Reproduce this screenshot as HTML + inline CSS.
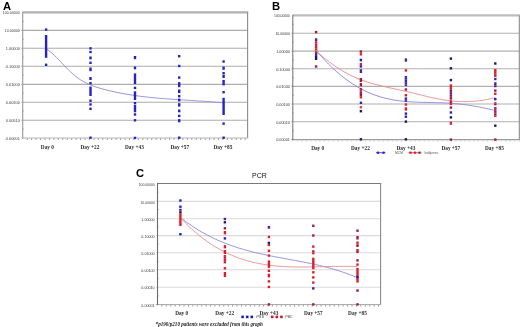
<!DOCTYPE html>
<html><head><meta charset="utf-8"><title>Figure</title>
<style>html,body{margin:0;padding:0;background:#fff;width:520px;height:327px;overflow:hidden;font-family:"Liberation Sans",sans-serif}svg{display:block;will-change:transform;filter:blur(0.35px)}</style>
</head><body>
<svg width="520" height="327" viewBox="0 0 520 327">
<rect width="520" height="327" fill="#fff"/>
<line x1="21.2" y1="30.4" x2="247.6" y2="30.4" stroke="#adadad" stroke-width="1.1"/>
<line x1="21.2" y1="48.3" x2="247.6" y2="48.3" stroke="#adadad" stroke-width="1.1"/>
<line x1="21.2" y1="66.3" x2="247.6" y2="66.3" stroke="#adadad" stroke-width="1.1"/>
<line x1="21.2" y1="84.4" x2="247.6" y2="84.4" stroke="#adadad" stroke-width="1.1"/>
<line x1="21.2" y1="102.2" x2="247.6" y2="102.2" stroke="#adadad" stroke-width="1.1"/>
<line x1="21.2" y1="120.2" x2="247.6" y2="120.2" stroke="#adadad" stroke-width="1.1"/>
<line x1="22.2" y1="21.37" x2="23.9" y2="21.37" stroke="#aaa" stroke-width="0.8"/>
<line x1="22.2" y1="39.31" x2="23.9" y2="39.31" stroke="#aaa" stroke-width="0.8"/>
<line x1="22.2" y1="57.26" x2="23.9" y2="57.26" stroke="#aaa" stroke-width="0.8"/>
<line x1="22.2" y1="75.2" x2="23.9" y2="75.2" stroke="#aaa" stroke-width="0.8"/>
<line x1="22.2" y1="93.14" x2="23.9" y2="93.14" stroke="#aaa" stroke-width="0.8"/>
<line x1="22.2" y1="111.09" x2="23.9" y2="111.09" stroke="#aaa" stroke-width="0.8"/>
<line x1="22.2" y1="129.03" x2="23.9" y2="129.03" stroke="#aaa" stroke-width="0.8"/>
<line x1="22.7" y1="12.4" x2="248.2" y2="12.4" stroke="#b0b0b0" stroke-width="2.2"/>
<line x1="247.6" y1="12.4" x2="247.6" y2="138" stroke="#8a8a8a" stroke-width="1.1"/>
<line x1="21.2" y1="138" x2="248.2" y2="138" stroke="#b5b5b5" stroke-width="1"/>
<line x1="22.7" y1="11.8" x2="22.7" y2="138.6" stroke="#a0a0a0" stroke-width="1.2"/>
<line x1="27.15" y1="138.3" x2="27.15" y2="140" stroke="#9a9a9a" stroke-width="1"/>
<line x1="31.6" y1="138.3" x2="31.6" y2="140" stroke="#9a9a9a" stroke-width="1"/>
<line x1="36.05" y1="138.3" x2="36.05" y2="140" stroke="#9a9a9a" stroke-width="1"/>
<line x1="40.5" y1="138.3" x2="40.5" y2="140" stroke="#9a9a9a" stroke-width="1"/>
<line x1="44.95" y1="138.3" x2="44.95" y2="140" stroke="#9a9a9a" stroke-width="1"/>
<line x1="49.4" y1="138.3" x2="49.4" y2="140" stroke="#9a9a9a" stroke-width="1"/>
<line x1="53.85" y1="138.3" x2="53.85" y2="140" stroke="#9a9a9a" stroke-width="1"/>
<line x1="58.3" y1="138.3" x2="58.3" y2="140" stroke="#9a9a9a" stroke-width="1"/>
<line x1="62.75" y1="138.3" x2="62.75" y2="140" stroke="#9a9a9a" stroke-width="1"/>
<line x1="67.2" y1="138.3" x2="67.2" y2="140" stroke="#9a9a9a" stroke-width="1"/>
<line x1="71.65" y1="138.3" x2="71.65" y2="140" stroke="#9a9a9a" stroke-width="1"/>
<line x1="76.1" y1="138.3" x2="76.1" y2="140" stroke="#9a9a9a" stroke-width="1"/>
<line x1="80.55" y1="138.3" x2="80.55" y2="140" stroke="#9a9a9a" stroke-width="1"/>
<line x1="85" y1="138.3" x2="85" y2="140" stroke="#9a9a9a" stroke-width="1"/>
<line x1="89.45" y1="138.3" x2="89.45" y2="140" stroke="#9a9a9a" stroke-width="1"/>
<line x1="93.9" y1="138.3" x2="93.9" y2="140" stroke="#9a9a9a" stroke-width="1"/>
<line x1="98.35" y1="138.3" x2="98.35" y2="140" stroke="#9a9a9a" stroke-width="1"/>
<line x1="102.8" y1="138.3" x2="102.8" y2="140" stroke="#9a9a9a" stroke-width="1"/>
<line x1="107.25" y1="138.3" x2="107.25" y2="140" stroke="#9a9a9a" stroke-width="1"/>
<line x1="111.7" y1="138.3" x2="111.7" y2="140" stroke="#9a9a9a" stroke-width="1"/>
<line x1="116.15" y1="138.3" x2="116.15" y2="140" stroke="#9a9a9a" stroke-width="1"/>
<line x1="120.6" y1="138.3" x2="120.6" y2="140" stroke="#9a9a9a" stroke-width="1"/>
<line x1="125.05" y1="138.3" x2="125.05" y2="140" stroke="#9a9a9a" stroke-width="1"/>
<line x1="129.5" y1="138.3" x2="129.5" y2="140" stroke="#9a9a9a" stroke-width="1"/>
<line x1="133.95" y1="138.3" x2="133.95" y2="140" stroke="#9a9a9a" stroke-width="1"/>
<line x1="138.4" y1="138.3" x2="138.4" y2="140" stroke="#9a9a9a" stroke-width="1"/>
<line x1="142.85" y1="138.3" x2="142.85" y2="140" stroke="#9a9a9a" stroke-width="1"/>
<line x1="147.3" y1="138.3" x2="147.3" y2="140" stroke="#9a9a9a" stroke-width="1"/>
<line x1="151.75" y1="138.3" x2="151.75" y2="140" stroke="#9a9a9a" stroke-width="1"/>
<line x1="156.2" y1="138.3" x2="156.2" y2="140" stroke="#9a9a9a" stroke-width="1"/>
<line x1="160.65" y1="138.3" x2="160.65" y2="140" stroke="#9a9a9a" stroke-width="1"/>
<line x1="165.1" y1="138.3" x2="165.1" y2="140" stroke="#9a9a9a" stroke-width="1"/>
<line x1="169.55" y1="138.3" x2="169.55" y2="140" stroke="#9a9a9a" stroke-width="1"/>
<line x1="174" y1="138.3" x2="174" y2="140" stroke="#9a9a9a" stroke-width="1"/>
<line x1="178.45" y1="138.3" x2="178.45" y2="140" stroke="#9a9a9a" stroke-width="1"/>
<line x1="182.9" y1="138.3" x2="182.9" y2="140" stroke="#9a9a9a" stroke-width="1"/>
<line x1="187.35" y1="138.3" x2="187.35" y2="140" stroke="#9a9a9a" stroke-width="1"/>
<line x1="191.8" y1="138.3" x2="191.8" y2="140" stroke="#9a9a9a" stroke-width="1"/>
<line x1="196.25" y1="138.3" x2="196.25" y2="140" stroke="#9a9a9a" stroke-width="1"/>
<line x1="200.7" y1="138.3" x2="200.7" y2="140" stroke="#9a9a9a" stroke-width="1"/>
<line x1="205.15" y1="138.3" x2="205.15" y2="140" stroke="#9a9a9a" stroke-width="1"/>
<line x1="209.6" y1="138.3" x2="209.6" y2="140" stroke="#9a9a9a" stroke-width="1"/>
<line x1="214.05" y1="138.3" x2="214.05" y2="140" stroke="#9a9a9a" stroke-width="1"/>
<line x1="218.5" y1="138.3" x2="218.5" y2="140" stroke="#9a9a9a" stroke-width="1"/>
<line x1="222.95" y1="138.3" x2="222.95" y2="140" stroke="#9a9a9a" stroke-width="1"/>
<line x1="227.4" y1="138.3" x2="227.4" y2="140" stroke="#9a9a9a" stroke-width="1"/>
<line x1="231.85" y1="138.3" x2="231.85" y2="140" stroke="#9a9a9a" stroke-width="1"/>
<line x1="236.3" y1="138.3" x2="236.3" y2="140" stroke="#9a9a9a" stroke-width="1"/>
<line x1="240.75" y1="138.3" x2="240.75" y2="140" stroke="#9a9a9a" stroke-width="1"/>
<line x1="245.2" y1="138.3" x2="245.2" y2="140" stroke="#9a9a9a" stroke-width="1"/>
<text x="19.9" y="14.3" font-size="3.9" text-anchor="end" textLength="17.1" lengthAdjust="spacingAndGlyphs" fill="#3a3a3a" font-family="Liberation Sans, sans-serif">100.00000</text>
<text x="19.9" y="32.3" font-size="3.9" text-anchor="end" textLength="15.3" lengthAdjust="spacingAndGlyphs" fill="#3a3a3a" font-family="Liberation Sans, sans-serif">10.00000</text>
<text x="19.9" y="50.2" font-size="3.9" text-anchor="end" textLength="14.2" lengthAdjust="spacingAndGlyphs" fill="#3a3a3a" font-family="Liberation Sans, sans-serif">1.00000</text>
<text x="19.9" y="68.2" font-size="3.9" text-anchor="end" textLength="14.2" lengthAdjust="spacingAndGlyphs" fill="#3a3a3a" font-family="Liberation Sans, sans-serif">0.10000</text>
<text x="19.9" y="86.3" font-size="3.9" text-anchor="end" textLength="14.2" lengthAdjust="spacingAndGlyphs" fill="#3a3a3a" font-family="Liberation Sans, sans-serif">0.01000</text>
<text x="19.9" y="104.1" font-size="3.9" text-anchor="end" textLength="14.2" lengthAdjust="spacingAndGlyphs" fill="#3a3a3a" font-family="Liberation Sans, sans-serif">0.00100</text>
<text x="19.9" y="122.1" font-size="3.9" text-anchor="end" textLength="14.2" lengthAdjust="spacingAndGlyphs" fill="#3a3a3a" font-family="Liberation Sans, sans-serif">0.00010</text>
<text x="19.9" y="139.9" font-size="3.9" text-anchor="end" textLength="14.2" lengthAdjust="spacingAndGlyphs" fill="#3a3a3a" font-family="Liberation Sans, sans-serif">0.00001</text>
<text x="47.4" y="148.9" font-size="5.3" font-weight="bold" text-anchor="middle" fill="#2a2a2a" font-family="Liberation Serif, serif">Day 0</text>
<text x="89.9" y="148.9" font-size="5.3" font-weight="bold" text-anchor="middle" fill="#2a2a2a" font-family="Liberation Serif, serif">Day +22</text>
<text x="134.4" y="148.9" font-size="5.3" font-weight="bold" text-anchor="middle" fill="#2a2a2a" font-family="Liberation Serif, serif">Day +43</text>
<text x="179.8" y="148.9" font-size="5.3" font-weight="bold" text-anchor="middle" fill="#2a2a2a" font-family="Liberation Serif, serif">Day +57</text>
<text x="222.9" y="148.9" font-size="5.3" font-weight="bold" text-anchor="middle" fill="#2a2a2a" font-family="Liberation Serif, serif">Day +85</text>
<text x="3" y="9.6" font-size="11.2" font-weight="bold" fill="#000" font-family="Liberation Sans, sans-serif">A</text>
<path d="M46.5,49.2 L48.51,50.41 L50.53,51.96 L52.54,53.68 L54.55,55.54 L56.57,57.51 L58.58,59.57 L60.6,61.68 L62.61,63.81 L64.62,65.93 L66.64,68.02 L68.65,70.04 L70.66,71.98 L72.68,73.82 L74.69,75.54 L76.7,77.13 L78.72,78.59 L80.73,79.93 L82.75,81.15 L84.76,82.28 L86.77,83.3 L88.79,84.24 L90.8,85.1 L92.81,85.88 L94.83,86.61 L96.84,87.28 L98.85,87.9 L100.87,88.49 L102.88,89.05 L104.9,89.58 L106.91,90.09 L108.92,90.59 L110.94,91.07 L112.95,91.53 L114.96,91.97 L116.98,92.4 L118.99,92.81 L121,93.2 L123.02,93.58 L125.03,93.94 L127.05,94.29 L129.06,94.62 L131.07,94.94 L133.09,95.25 L135.1,95.55 L137.11,95.83 L139.13,96.1 L141.14,96.36 L143.15,96.61 L145.17,96.84 L147.18,97.07 L149.2,97.29 L151.21,97.5 L153.22,97.7 L155.24,97.89 L157.25,98.08 L159.26,98.25 L161.28,98.42 L163.29,98.59 L165.3,98.75 L167.32,98.9 L169.33,99.05 L171.35,99.19 L173.36,99.33 L175.37,99.47 L177.39,99.6 L179.4,99.73 L181.41,99.86 L183.43,99.99 L185.44,100.12 L187.45,100.24 L189.47,100.37 L191.48,100.49 L193.5,100.62 L195.51,100.75 L197.52,100.87 L199.54,101.01 L201.55,101.14 L203.56,101.28 L205.58,101.42 L207.59,101.56 L209.6,101.71 L211.62,101.86 L213.63,102.02 L215.65,102.18 L217.66,102.35 L219.67,102.53 L221.69,102.71 L223.7,102.91" fill="none" stroke="#8a8ad8" stroke-width="0.9" stroke-linejoin="round"/>
<rect x="44.9" y="28.4" width="2.4" height="2.4" fill="#2424c4"/>
<rect x="44.9" y="35" width="2.4" height="22.8" fill="#2424c4"/>
<rect x="44.9" y="63.6" width="2.4" height="2.4" fill="#2424c4"/>
<rect x="89.3" y="47.2" width="2.4" height="2.4" fill="#2424c4"/>
<rect x="89.3" y="50.8" width="2.4" height="2.4" fill="#2424c4"/>
<rect x="89.3" y="56.5" width="2.4" height="2.9" fill="#2424c4"/>
<rect x="89.3" y="61.6" width="2.4" height="2.4" fill="#2424c4"/>
<rect x="89.3" y="67.5" width="2.4" height="3.7" fill="#2424c4"/>
<rect x="89.3" y="77" width="2.4" height="3" fill="#2424c4"/>
<rect x="89.3" y="82" width="2.4" height="2.4" fill="#2424c4"/>
<rect x="89.3" y="86.6" width="2.4" height="9.4" fill="#2424c4"/>
<rect x="89.3" y="99.5" width="2.4" height="2.4" fill="#2424c4"/>
<rect x="89.3" y="103.3" width="2.4" height="2.4" fill="#2424c4"/>
<rect x="89.3" y="107.6" width="2.4" height="2.4" fill="#2424c4"/>
<rect x="89.3" y="136.5" width="2.4" height="2.4" fill="#2424c4"/>
<rect x="133.8" y="56" width="2.4" height="3.2" fill="#2424c4"/>
<rect x="133.8" y="66.5" width="2.4" height="2.8" fill="#2424c4"/>
<rect x="133.8" y="73.4" width="2.4" height="10.6" fill="#2424c4"/>
<rect x="133.8" y="86.7" width="2.4" height="2.4" fill="#2424c4"/>
<rect x="133.8" y="91.3" width="2.4" height="8.7" fill="#2424c4"/>
<rect x="133.8" y="102" width="2.4" height="2.4" fill="#2424c4"/>
<rect x="133.8" y="105" width="2.4" height="7.3" fill="#2424c4"/>
<rect x="133.8" y="113.3" width="2.4" height="2.4" fill="#2424c4"/>
<rect x="133.8" y="119.1" width="2.4" height="2.4" fill="#2424c4"/>
<rect x="133.8" y="136.7" width="2.4" height="2.4" fill="#2424c4"/>
<rect x="178" y="55" width="2.4" height="2.4" fill="#2424c4"/>
<rect x="178" y="64.8" width="2.4" height="2.4" fill="#2424c4"/>
<rect x="178" y="76.4" width="2.4" height="2.4" fill="#2424c4"/>
<rect x="178" y="82.1" width="2.4" height="5.1" fill="#2424c4"/>
<rect x="178" y="89.5" width="2.4" height="3.6" fill="#2424c4"/>
<rect x="178" y="95" width="2.4" height="2.4" fill="#2424c4"/>
<rect x="178" y="98.6" width="2.4" height="2.8" fill="#2424c4"/>
<rect x="178" y="103.2" width="2.4" height="3.4" fill="#2424c4"/>
<rect x="178" y="109.5" width="2.4" height="2.8" fill="#2424c4"/>
<rect x="178" y="114.7" width="2.4" height="2.4" fill="#2424c4"/>
<rect x="178" y="119.1" width="2.4" height="3.2" fill="#2424c4"/>
<rect x="178" y="136.5" width="2.4" height="2.4" fill="#2424c4"/>
<rect x="222.4" y="60.3" width="2.4" height="2.4" fill="#2424c4"/>
<rect x="222.4" y="66.6" width="2.4" height="3.2" fill="#2424c4"/>
<rect x="222.4" y="72" width="2.4" height="2.4" fill="#2424c4"/>
<rect x="222.4" y="74.8" width="2.4" height="3.2" fill="#2424c4"/>
<rect x="222.4" y="79.9" width="2.4" height="2.4" fill="#2424c4"/>
<rect x="222.4" y="82.1" width="2.4" height="3.3" fill="#2424c4"/>
<rect x="222.4" y="91" width="2.4" height="2.4" fill="#2424c4"/>
<rect x="222.4" y="97.8" width="2.4" height="17.2" fill="#2424c4"/>
<rect x="222.4" y="122.4" width="2.4" height="2.4" fill="#2424c4"/>
<rect x="222.4" y="136.5" width="2.4" height="2.4" fill="#2424c4"/>
<line x1="291.3" y1="33.3" x2="519.3" y2="33.3" stroke="#b0b0b0" stroke-width="1.1"/>
<line x1="291.3" y1="51.1" x2="519.3" y2="51.1" stroke="#b0b0b0" stroke-width="1.1"/>
<line x1="291.3" y1="68.7" x2="519.3" y2="68.7" stroke="#b0b0b0" stroke-width="1.1"/>
<line x1="291.3" y1="86.4" x2="519.3" y2="86.4" stroke="#b0b0b0" stroke-width="1.1"/>
<line x1="291.3" y1="104" x2="519.3" y2="104" stroke="#b0b0b0" stroke-width="1.1"/>
<line x1="291.3" y1="121.8" x2="519.3" y2="121.8" stroke="#b0b0b0" stroke-width="1.1"/>
<line x1="292.3" y1="24.27" x2="294" y2="24.27" stroke="#aaa" stroke-width="0.8"/>
<line x1="292.3" y1="42.01" x2="294" y2="42.01" stroke="#aaa" stroke-width="0.8"/>
<line x1="292.3" y1="59.76" x2="294" y2="59.76" stroke="#aaa" stroke-width="0.8"/>
<line x1="292.3" y1="77.5" x2="294" y2="77.5" stroke="#aaa" stroke-width="0.8"/>
<line x1="292.3" y1="95.24" x2="294" y2="95.24" stroke="#aaa" stroke-width="0.8"/>
<line x1="292.3" y1="112.99" x2="294" y2="112.99" stroke="#aaa" stroke-width="0.8"/>
<line x1="292.3" y1="130.73" x2="294" y2="130.73" stroke="#aaa" stroke-width="0.8"/>
<line x1="292.8" y1="15.4" x2="519.9" y2="15.4" stroke="#bdbdbd" stroke-width="2.2"/>
<line x1="519.3" y1="15.4" x2="519.3" y2="139.6" stroke="#8a8a8a" stroke-width="1.1"/>
<line x1="291.3" y1="139.6" x2="519.9" y2="139.6" stroke="#9a9a9a" stroke-width="1.3"/>
<line x1="292.8" y1="14.8" x2="292.8" y2="140.2" stroke="#7a7a7a" stroke-width="1.1"/>
<line x1="297.33" y1="139.9" x2="297.33" y2="141.6" stroke="#cfcfcf" stroke-width="1"/>
<line x1="301.86" y1="139.9" x2="301.86" y2="141.6" stroke="#cfcfcf" stroke-width="1"/>
<line x1="306.39" y1="139.9" x2="306.39" y2="141.6" stroke="#cfcfcf" stroke-width="1"/>
<line x1="310.92" y1="139.9" x2="310.92" y2="141.6" stroke="#cfcfcf" stroke-width="1"/>
<line x1="315.45" y1="139.9" x2="315.45" y2="141.6" stroke="#cfcfcf" stroke-width="1"/>
<line x1="319.98" y1="139.9" x2="319.98" y2="141.6" stroke="#cfcfcf" stroke-width="1"/>
<line x1="324.51" y1="139.9" x2="324.51" y2="141.6" stroke="#cfcfcf" stroke-width="1"/>
<line x1="329.04" y1="139.9" x2="329.04" y2="141.6" stroke="#cfcfcf" stroke-width="1"/>
<line x1="333.57" y1="139.9" x2="333.57" y2="141.6" stroke="#cfcfcf" stroke-width="1"/>
<line x1="338.1" y1="139.9" x2="338.1" y2="141.6" stroke="#cfcfcf" stroke-width="1"/>
<line x1="342.63" y1="139.9" x2="342.63" y2="141.6" stroke="#cfcfcf" stroke-width="1"/>
<line x1="347.16" y1="139.9" x2="347.16" y2="141.6" stroke="#cfcfcf" stroke-width="1"/>
<line x1="351.69" y1="139.9" x2="351.69" y2="141.6" stroke="#cfcfcf" stroke-width="1"/>
<line x1="356.22" y1="139.9" x2="356.22" y2="141.6" stroke="#cfcfcf" stroke-width="1"/>
<line x1="360.75" y1="139.9" x2="360.75" y2="141.6" stroke="#cfcfcf" stroke-width="1"/>
<line x1="365.28" y1="139.9" x2="365.28" y2="141.6" stroke="#cfcfcf" stroke-width="1"/>
<line x1="369.81" y1="139.9" x2="369.81" y2="141.6" stroke="#cfcfcf" stroke-width="1"/>
<line x1="374.34" y1="139.9" x2="374.34" y2="141.6" stroke="#cfcfcf" stroke-width="1"/>
<line x1="378.87" y1="139.9" x2="378.87" y2="141.6" stroke="#cfcfcf" stroke-width="1"/>
<line x1="383.4" y1="139.9" x2="383.4" y2="141.6" stroke="#cfcfcf" stroke-width="1"/>
<line x1="387.93" y1="139.9" x2="387.93" y2="141.6" stroke="#cfcfcf" stroke-width="1"/>
<line x1="392.46" y1="139.9" x2="392.46" y2="141.6" stroke="#cfcfcf" stroke-width="1"/>
<line x1="396.99" y1="139.9" x2="396.99" y2="141.6" stroke="#cfcfcf" stroke-width="1"/>
<line x1="401.52" y1="139.9" x2="401.52" y2="141.6" stroke="#cfcfcf" stroke-width="1"/>
<line x1="406.05" y1="139.9" x2="406.05" y2="141.6" stroke="#cfcfcf" stroke-width="1"/>
<line x1="410.58" y1="139.9" x2="410.58" y2="141.6" stroke="#cfcfcf" stroke-width="1"/>
<line x1="415.11" y1="139.9" x2="415.11" y2="141.6" stroke="#cfcfcf" stroke-width="1"/>
<line x1="419.64" y1="139.9" x2="419.64" y2="141.6" stroke="#cfcfcf" stroke-width="1"/>
<line x1="424.17" y1="139.9" x2="424.17" y2="141.6" stroke="#cfcfcf" stroke-width="1"/>
<line x1="428.7" y1="139.9" x2="428.7" y2="141.6" stroke="#cfcfcf" stroke-width="1"/>
<line x1="433.23" y1="139.9" x2="433.23" y2="141.6" stroke="#cfcfcf" stroke-width="1"/>
<line x1="437.76" y1="139.9" x2="437.76" y2="141.6" stroke="#cfcfcf" stroke-width="1"/>
<line x1="442.29" y1="139.9" x2="442.29" y2="141.6" stroke="#cfcfcf" stroke-width="1"/>
<line x1="446.82" y1="139.9" x2="446.82" y2="141.6" stroke="#cfcfcf" stroke-width="1"/>
<line x1="451.35" y1="139.9" x2="451.35" y2="141.6" stroke="#cfcfcf" stroke-width="1"/>
<line x1="455.88" y1="139.9" x2="455.88" y2="141.6" stroke="#cfcfcf" stroke-width="1"/>
<line x1="460.41" y1="139.9" x2="460.41" y2="141.6" stroke="#cfcfcf" stroke-width="1"/>
<line x1="464.94" y1="139.9" x2="464.94" y2="141.6" stroke="#cfcfcf" stroke-width="1"/>
<line x1="469.47" y1="139.9" x2="469.47" y2="141.6" stroke="#cfcfcf" stroke-width="1"/>
<line x1="474" y1="139.9" x2="474" y2="141.6" stroke="#cfcfcf" stroke-width="1"/>
<line x1="478.53" y1="139.9" x2="478.53" y2="141.6" stroke="#cfcfcf" stroke-width="1"/>
<line x1="483.06" y1="139.9" x2="483.06" y2="141.6" stroke="#cfcfcf" stroke-width="1"/>
<line x1="487.59" y1="139.9" x2="487.59" y2="141.6" stroke="#cfcfcf" stroke-width="1"/>
<line x1="492.12" y1="139.9" x2="492.12" y2="141.6" stroke="#cfcfcf" stroke-width="1"/>
<line x1="496.65" y1="139.9" x2="496.65" y2="141.6" stroke="#cfcfcf" stroke-width="1"/>
<line x1="501.18" y1="139.9" x2="501.18" y2="141.6" stroke="#cfcfcf" stroke-width="1"/>
<line x1="505.71" y1="139.9" x2="505.71" y2="141.6" stroke="#cfcfcf" stroke-width="1"/>
<line x1="510.24" y1="139.9" x2="510.24" y2="141.6" stroke="#cfcfcf" stroke-width="1"/>
<line x1="514.77" y1="139.9" x2="514.77" y2="141.6" stroke="#cfcfcf" stroke-width="1"/>
<line x1="519.3" y1="139.9" x2="519.3" y2="141.6" stroke="#cfcfcf" stroke-width="1"/>
<text x="290" y="17.27" font-size="3.8" text-anchor="end" textLength="16" lengthAdjust="spacingAndGlyphs" fill="#3a3a3a" font-family="Liberation Sans, sans-serif">100.00000</text>
<text x="290" y="35.17" font-size="3.8" text-anchor="end" textLength="14.6" lengthAdjust="spacingAndGlyphs" fill="#3a3a3a" font-family="Liberation Sans, sans-serif">10.00000</text>
<text x="290" y="52.97" font-size="3.8" text-anchor="end" textLength="13.8" lengthAdjust="spacingAndGlyphs" fill="#3a3a3a" font-family="Liberation Sans, sans-serif">1.00000</text>
<text x="290" y="70.57" font-size="3.8" text-anchor="end" textLength="13.8" lengthAdjust="spacingAndGlyphs" fill="#3a3a3a" font-family="Liberation Sans, sans-serif">0.10000</text>
<text x="290" y="88.27" font-size="3.8" text-anchor="end" textLength="13.8" lengthAdjust="spacingAndGlyphs" fill="#3a3a3a" font-family="Liberation Sans, sans-serif">0.01000</text>
<text x="290" y="105.87" font-size="3.8" text-anchor="end" textLength="13.8" lengthAdjust="spacingAndGlyphs" fill="#3a3a3a" font-family="Liberation Sans, sans-serif">0.00100</text>
<text x="290" y="123.67" font-size="3.8" text-anchor="end" textLength="13.8" lengthAdjust="spacingAndGlyphs" fill="#3a3a3a" font-family="Liberation Sans, sans-serif">0.00010</text>
<text x="290" y="141.47" font-size="3.8" text-anchor="end" textLength="13.8" lengthAdjust="spacingAndGlyphs" fill="#3a3a3a" font-family="Liberation Sans, sans-serif">0.00001</text>
<text x="317.7" y="149.7" font-size="5.3" font-weight="bold" text-anchor="middle" fill="#2a2a2a" font-family="Liberation Serif, serif">Day 0</text>
<text x="360.4" y="149.7" font-size="5.3" font-weight="bold" text-anchor="middle" fill="#2a2a2a" font-family="Liberation Serif, serif">Day +22</text>
<text x="405.9" y="149.7" font-size="5.3" font-weight="bold" text-anchor="middle" fill="#2a2a2a" font-family="Liberation Serif, serif">Day +43</text>
<text x="450.8" y="149.7" font-size="5.3" font-weight="bold" text-anchor="middle" fill="#2a2a2a" font-family="Liberation Serif, serif">Day +57</text>
<text x="494.4" y="149.7" font-size="5.3" font-weight="bold" text-anchor="middle" fill="#2a2a2a" font-family="Liberation Serif, serif">Day +85</text>
<text x="272" y="10" font-size="11.2" font-weight="bold" fill="#000" font-family="Liberation Sans, sans-serif">B</text>
<path d="M316.8,51.8 L318.81,53.32 L320.82,55.1 L322.83,56.83 L324.84,58.5 L326.84,60.11 L328.85,61.67 L330.86,63.18 L332.87,64.63 L334.88,66.03 L336.89,67.38 L338.9,68.67 L340.91,69.92 L342.92,71.12 L344.93,72.27 L346.93,73.37 L348.94,74.42 L350.95,75.43 L352.96,76.39 L354.97,77.31 L356.98,78.18 L358.99,79.01 L361,79.8 L363.01,80.55 L365.02,81.26 L367.02,81.94 L369.03,82.58 L371.04,83.18 L373.05,83.76 L375.06,84.32 L377.07,84.85 L379.08,85.36 L381.09,85.84 L383.1,86.32 L385.11,86.78 L387.11,87.22 L389.12,87.66 L391.13,88.1 L393.14,88.52 L395.15,88.95 L397.16,89.38 L399.17,89.81 L401.18,90.25 L403.19,90.69 L405.2,91.15 L407.2,91.62 L409.21,92.09 L411.22,92.58 L413.23,93.07 L415.24,93.57 L417.25,94.07 L419.26,94.57 L421.27,95.07 L423.28,95.57 L425.29,96.06 L427.29,96.54 L429.3,97.01 L431.31,97.47 L433.32,97.92 L435.33,98.35 L437.34,98.76 L439.35,99.15 L441.36,99.52 L443.37,99.87 L445.38,100.19 L447.38,100.48 L449.39,100.74 L451.4,100.97 L453.41,101.16 L455.42,101.32 L457.43,101.45 L459.44,101.54 L461.45,101.6 L463.46,101.63 L465.47,101.63 L467.47,101.59 L469.48,101.52 L471.49,101.41 L473.5,101.27 L475.51,101.1 L477.52,100.9 L479.53,100.66 L481.54,100.39 L483.55,100.09 L485.56,99.75 L487.56,99.38 L489.57,98.98 L491.58,98.54 L493.59,98.08 L495.6,97.57" fill="none" stroke="#e68a8a" stroke-width="0.9" stroke-linejoin="round"/>
<path d="M316.8,51.8 L318.81,53.62 L320.82,55.88 L322.83,58.08 L324.84,60.23 L326.84,62.32 L328.85,64.35 L330.86,66.32 L332.87,68.24 L334.88,70.1 L336.89,71.9 L338.9,73.63 L340.91,75.31 L342.92,76.93 L344.93,78.49 L346.93,79.99 L348.94,81.42 L350.95,82.8 L352.96,84.12 L354.97,85.38 L356.98,86.59 L358.99,87.74 L361,88.84 L363.01,89.88 L365.02,90.88 L367.02,91.82 L369.03,92.71 L371.04,93.55 L373.05,94.34 L375.06,95.09 L377.07,95.79 L379.08,96.45 L381.09,97.06 L383.1,97.63 L385.11,98.15 L387.11,98.64 L389.12,99.08 L391.13,99.49 L393.14,99.86 L395.15,100.2 L397.16,100.5 L399.17,100.78 L401.18,101.02 L403.19,101.24 L405.2,101.44 L407.2,101.61 L409.21,101.76 L411.22,101.89 L413.23,102 L415.24,102.1 L417.25,102.18 L419.26,102.25 L421.27,102.31 L423.28,102.37 L425.29,102.41 L427.29,102.46 L429.3,102.5 L431.31,102.53 L433.32,102.58 L435.33,102.62 L437.34,102.67 L439.35,102.72 L441.36,102.79 L443.37,102.86 L445.38,102.95 L447.38,103.05 L449.39,103.17 L451.4,103.31 L453.41,103.46 L455.42,103.63 L457.43,103.83 L459.44,104.04 L461.45,104.26 L463.46,104.51 L465.47,104.77 L467.47,105.05 L469.48,105.35 L471.49,105.67 L473.5,106 L475.51,106.35 L477.52,106.71 L479.53,107.1 L481.54,107.49 L483.55,107.91 L485.56,108.33 L487.56,108.78 L489.57,109.24 L491.58,109.71 L493.59,110.2 L495.6,110.7" fill="none" stroke="#8484dc" stroke-width="0.9" stroke-linejoin="round"/>
<rect x="314.9" y="30.9" width="2.4" height="2.4" fill="#a01c40"/>
<rect x="314.9" y="38.3" width="2.4" height="3.2" fill="#552288"/>
<rect x="314.9" y="41.5" width="2.4" height="1.83" fill="#e01e2a"/>
<rect x="314.9" y="43.28" width="2.4" height="1.83" fill="#e01e2a"/>
<rect x="314.9" y="45.06" width="2.4" height="1.83" fill="#b02060"/>
<rect x="314.9" y="46.84" width="2.4" height="1.83" fill="#e01e2a"/>
<rect x="314.9" y="48.62" width="2.4" height="1.83" fill="#e01e2a"/>
<rect x="314.9" y="50.4" width="2.4" height="2.4" fill="#e04a20"/>
<rect x="314.9" y="52.4" width="2.4" height="3.6" fill="#552288"/>
<rect x="314.9" y="56" width="2.4" height="4" fill="#1a1a6a"/>
<rect x="314.9" y="65.3" width="2.4" height="2.4" fill="#a01c40"/>
<rect x="359.7" y="50.4" width="2.4" height="2.4" fill="#a01c40"/>
<rect x="359.7" y="53.1" width="2.4" height="2.4" fill="#e01e2a"/>
<rect x="359.7" y="58.7" width="2.4" height="2.7" fill="#2424c4"/>
<rect x="359.7" y="63" width="2.4" height="2.4" fill="#e01e2a"/>
<rect x="359.7" y="65.2" width="2.4" height="2.4" fill="#2424c4"/>
<rect x="359.7" y="69.2" width="2.4" height="3.8" fill="#552288"/>
<rect x="359.7" y="78" width="2.4" height="4" fill="#a01c40"/>
<rect x="359.7" y="83" width="2.4" height="3.3" fill="#a01c40"/>
<rect x="359.7" y="87.9" width="2.4" height="1.8" fill="#a01c40"/>
<rect x="359.7" y="89.65" width="2.4" height="1.8" fill="#e01e2a"/>
<rect x="359.7" y="91.4" width="2.4" height="1.8" fill="#a01c40"/>
<rect x="359.7" y="93.15" width="2.4" height="1.8" fill="#6a1a5a"/>
<rect x="359.7" y="94.9" width="2.4" height="1.8" fill="#a01c40"/>
<rect x="359.7" y="96.65" width="2.4" height="1.8" fill="#e01e2a"/>
<rect x="359.7" y="101.6" width="2.4" height="2.4" fill="#2424c4"/>
<rect x="359.7" y="106.1" width="2.4" height="2.4" fill="#e04a20"/>
<rect x="359.7" y="110" width="2.4" height="2.4" fill="#1a1a6a"/>
<rect x="359.7" y="138.1" width="2.4" height="2.4" fill="#1a1a6a"/>
<rect x="404.7" y="58.4" width="2.4" height="3.3" fill="#552288"/>
<rect x="404.7" y="69.2" width="2.4" height="2.4" fill="#e01e2a"/>
<rect x="404.7" y="76" width="2.4" height="1.72" fill="#2424c4"/>
<rect x="404.7" y="77.67" width="2.4" height="1.72" fill="#2424c4"/>
<rect x="404.7" y="79.33" width="2.4" height="1.72" fill="#552288"/>
<rect x="404.7" y="81" width="2.4" height="1.72" fill="#2424c4"/>
<rect x="404.7" y="82.67" width="2.4" height="1.72" fill="#2424c4"/>
<rect x="404.7" y="84.33" width="2.4" height="1.72" fill="#552288"/>
<rect x="404.7" y="88.3" width="2.4" height="2.4" fill="#a01c40"/>
<rect x="404.7" y="94" width="2.4" height="2.4" fill="#e01e2a"/>
<rect x="404.7" y="97.4" width="2.4" height="1.52" fill="#2424c4"/>
<rect x="404.7" y="98.87" width="2.4" height="1.52" fill="#552288"/>
<rect x="404.7" y="100.33" width="2.4" height="1.52" fill="#2424c4"/>
<rect x="404.7" y="103.3" width="2.4" height="2.4" fill="#e01e2a"/>
<rect x="404.7" y="107.3" width="2.4" height="3.3" fill="#e01e2a"/>
<rect x="404.7" y="112.4" width="2.4" height="2.4" fill="#2424c4"/>
<rect x="404.7" y="115.5" width="2.4" height="2.4" fill="#2424c4"/>
<rect x="404.7" y="120.4" width="2.4" height="2.4" fill="#1a1a6a"/>
<rect x="404.7" y="138.1" width="2.4" height="2.4" fill="#1a1a6a"/>
<rect x="449.7" y="57.4" width="2.4" height="2.4" fill="#1a1a6a"/>
<rect x="449.7" y="67.1" width="2.4" height="2.4" fill="#1a1a6a"/>
<rect x="449.7" y="78.9" width="2.4" height="2.4" fill="#1a1a6a"/>
<rect x="449.7" y="84.3" width="2.4" height="5" fill="#e01e2a"/>
<rect x="449.7" y="89.3" width="2.4" height="1.77" fill="#552288"/>
<rect x="449.7" y="91.02" width="2.4" height="1.77" fill="#a01c40"/>
<rect x="449.7" y="92.73" width="2.4" height="1.77" fill="#7a1a6a"/>
<rect x="449.7" y="94.45" width="2.4" height="1.77" fill="#552288"/>
<rect x="449.7" y="96.17" width="2.4" height="1.77" fill="#a01c40"/>
<rect x="449.7" y="97.88" width="2.4" height="1.77" fill="#7a1a6a"/>
<rect x="449.7" y="100.2" width="2.4" height="1.65" fill="#e01e2a"/>
<rect x="449.7" y="101.8" width="2.4" height="1.65" fill="#a01c40"/>
<rect x="449.7" y="103.4" width="2.4" height="1.65" fill="#e01e2a"/>
<rect x="449.7" y="106.4" width="2.4" height="2.4" fill="#a01c40"/>
<rect x="449.7" y="111.3" width="2.4" height="2.4" fill="#2424c4"/>
<rect x="449.7" y="116.2" width="2.4" height="2.4" fill="#1a1a6a"/>
<rect x="449.7" y="121.7" width="2.4" height="1.55" fill="#e01e2a"/>
<rect x="449.7" y="123.2" width="2.4" height="1.55" fill="#a01c40"/>
<rect x="449.7" y="138.4" width="2.4" height="2.4" fill="#a01c40"/>
<rect x="494.1" y="62.3" width="2.4" height="2.4" fill="#1a1a6a"/>
<rect x="494.1" y="69" width="2.4" height="5.5" fill="#e01e2a"/>
<rect x="494.1" y="74.4" width="2.4" height="2.4" fill="#a01c40"/>
<rect x="494.1" y="77.8" width="2.4" height="2.4" fill="#552288"/>
<rect x="494.1" y="82.3" width="2.4" height="1.68" fill="#552288"/>
<rect x="494.1" y="83.93" width="2.4" height="1.68" fill="#2424c4"/>
<rect x="494.1" y="85.57" width="2.4" height="1.68" fill="#552288"/>
<rect x="494.1" y="89.4" width="2.4" height="2.4" fill="#a01c40"/>
<rect x="494.1" y="92.6" width="2.4" height="2.4" fill="#e01e2a"/>
<rect x="494.1" y="98" width="2.4" height="2.4" fill="#2424c4"/>
<rect x="494.1" y="102.2" width="2.4" height="1.6" fill="#e01e2a"/>
<rect x="494.1" y="103.75" width="2.4" height="1.6" fill="#a01c40"/>
<rect x="494.1" y="107.1" width="2.4" height="1.7" fill="#552288"/>
<rect x="494.1" y="108.75" width="2.4" height="1.7" fill="#e01e2a"/>
<rect x="494.1" y="110.4" width="2.4" height="1.7" fill="#a01c40"/>
<rect x="494.1" y="112.05" width="2.4" height="1.7" fill="#e01e2a"/>
<rect x="494.1" y="113.7" width="2.4" height="1.7" fill="#552288"/>
<rect x="494.1" y="115.35" width="2.4" height="1.7" fill="#e01e2a"/>
<rect x="494.1" y="124.5" width="2.4" height="2.4" fill="#1a1a6a"/>
<rect x="494.1" y="138.4" width="2.4" height="2.4" fill="#a01c40"/>
<line x1="376" y1="152.7" x2="385.5" y2="152.7" stroke="#2a2ac0" stroke-width="0.8"/>
<rect x="376.9" y="151.6" width="2.2" height="2.2" fill="#2424c4"/>
<rect x="382.4" y="151.6" width="2.2" height="2.2" fill="#2424c4"/>
<text x="395" y="154" font-size="3.6" textLength="8" lengthAdjust="spacingAndGlyphs" fill="#555" font-family="Liberation Sans, sans-serif">MCM</text>
<line x1="408.5" y1="152.7" x2="421.5" y2="152.7" stroke="#e03030" stroke-width="0.8"/>
<rect x="409.4" y="151.6" width="2.2" height="2.2" fill="#e01e2a"/>
<rect x="413.9" y="151.6" width="2.2" height="2.2" fill="#e01e2a"/>
<rect x="418.4" y="151.6" width="2.2" height="2.2" fill="#a01c40"/>
<text x="424.5" y="154" font-size="3.6" textLength="13.5" lengthAdjust="spacingAndGlyphs" fill="#555" font-family="Liberation Sans, sans-serif">Ind/genes</text>
<line x1="156" y1="201.4" x2="380.6" y2="201.4" stroke="#dadada" stroke-width="1.1"/>
<line x1="156" y1="218.7" x2="380.6" y2="218.7" stroke="#dadada" stroke-width="1.1"/>
<line x1="156" y1="235.6" x2="380.6" y2="235.6" stroke="#dadada" stroke-width="1.1"/>
<line x1="156" y1="252.8" x2="380.6" y2="252.8" stroke="#dadada" stroke-width="1.1"/>
<line x1="156" y1="269.8" x2="380.6" y2="269.8" stroke="#dadada" stroke-width="1.1"/>
<line x1="156" y1="287.2" x2="380.6" y2="287.2" stroke="#dadada" stroke-width="1.1"/>
<line x1="157" y1="192.15" x2="158.7" y2="192.15" stroke="#aaa" stroke-width="0.8"/>
<line x1="157" y1="209.45" x2="158.7" y2="209.45" stroke="#aaa" stroke-width="0.8"/>
<line x1="157" y1="226.75" x2="158.7" y2="226.75" stroke="#aaa" stroke-width="0.8"/>
<line x1="157" y1="244.05" x2="158.7" y2="244.05" stroke="#aaa" stroke-width="0.8"/>
<line x1="157" y1="261.35" x2="158.7" y2="261.35" stroke="#aaa" stroke-width="0.8"/>
<line x1="157" y1="278.65" x2="158.7" y2="278.65" stroke="#aaa" stroke-width="0.8"/>
<line x1="157" y1="295.95" x2="158.7" y2="295.95" stroke="#aaa" stroke-width="0.8"/>
<line x1="157.5" y1="183.5" x2="381.2" y2="183.5" stroke="#7a7a7a" stroke-width="1.1"/>
<line x1="380.6" y1="183.5" x2="380.6" y2="304.6" stroke="#8a8a8a" stroke-width="1.1"/>
<line x1="156" y1="304.6" x2="381.2" y2="304.6" stroke="#a5a5a5" stroke-width="1"/>
<line x1="157.5" y1="182.9" x2="157.5" y2="305.2" stroke="#6a6a6a" stroke-width="1.1"/>
<line x1="161.92" y1="304.9" x2="161.92" y2="306.6" stroke="#a0a0a0" stroke-width="1"/>
<line x1="166.34" y1="304.9" x2="166.34" y2="306.6" stroke="#a0a0a0" stroke-width="1"/>
<line x1="170.76" y1="304.9" x2="170.76" y2="306.6" stroke="#a0a0a0" stroke-width="1"/>
<line x1="175.18" y1="304.9" x2="175.18" y2="306.6" stroke="#a0a0a0" stroke-width="1"/>
<line x1="179.6" y1="304.9" x2="179.6" y2="306.6" stroke="#a0a0a0" stroke-width="1"/>
<line x1="184.02" y1="304.9" x2="184.02" y2="306.6" stroke="#a0a0a0" stroke-width="1"/>
<line x1="188.44" y1="304.9" x2="188.44" y2="306.6" stroke="#a0a0a0" stroke-width="1"/>
<line x1="192.86" y1="304.9" x2="192.86" y2="306.6" stroke="#a0a0a0" stroke-width="1"/>
<line x1="197.28" y1="304.9" x2="197.28" y2="306.6" stroke="#a0a0a0" stroke-width="1"/>
<line x1="201.7" y1="304.9" x2="201.7" y2="306.6" stroke="#a0a0a0" stroke-width="1"/>
<line x1="206.12" y1="304.9" x2="206.12" y2="306.6" stroke="#a0a0a0" stroke-width="1"/>
<line x1="210.54" y1="304.9" x2="210.54" y2="306.6" stroke="#a0a0a0" stroke-width="1"/>
<line x1="214.96" y1="304.9" x2="214.96" y2="306.6" stroke="#a0a0a0" stroke-width="1"/>
<line x1="219.38" y1="304.9" x2="219.38" y2="306.6" stroke="#a0a0a0" stroke-width="1"/>
<line x1="223.8" y1="304.9" x2="223.8" y2="306.6" stroke="#a0a0a0" stroke-width="1"/>
<line x1="228.22" y1="304.9" x2="228.22" y2="306.6" stroke="#a0a0a0" stroke-width="1"/>
<line x1="232.64" y1="304.9" x2="232.64" y2="306.6" stroke="#a0a0a0" stroke-width="1"/>
<line x1="237.06" y1="304.9" x2="237.06" y2="306.6" stroke="#a0a0a0" stroke-width="1"/>
<line x1="241.48" y1="304.9" x2="241.48" y2="306.6" stroke="#a0a0a0" stroke-width="1"/>
<line x1="245.9" y1="304.9" x2="245.9" y2="306.6" stroke="#a0a0a0" stroke-width="1"/>
<line x1="250.32" y1="304.9" x2="250.32" y2="306.6" stroke="#a0a0a0" stroke-width="1"/>
<line x1="254.74" y1="304.9" x2="254.74" y2="306.6" stroke="#a0a0a0" stroke-width="1"/>
<line x1="259.16" y1="304.9" x2="259.16" y2="306.6" stroke="#a0a0a0" stroke-width="1"/>
<line x1="263.58" y1="304.9" x2="263.58" y2="306.6" stroke="#a0a0a0" stroke-width="1"/>
<line x1="268" y1="304.9" x2="268" y2="306.6" stroke="#a0a0a0" stroke-width="1"/>
<line x1="272.42" y1="304.9" x2="272.42" y2="306.6" stroke="#a0a0a0" stroke-width="1"/>
<line x1="276.84" y1="304.9" x2="276.84" y2="306.6" stroke="#a0a0a0" stroke-width="1"/>
<line x1="281.26" y1="304.9" x2="281.26" y2="306.6" stroke="#a0a0a0" stroke-width="1"/>
<line x1="285.68" y1="304.9" x2="285.68" y2="306.6" stroke="#a0a0a0" stroke-width="1"/>
<line x1="290.1" y1="304.9" x2="290.1" y2="306.6" stroke="#a0a0a0" stroke-width="1"/>
<line x1="294.52" y1="304.9" x2="294.52" y2="306.6" stroke="#a0a0a0" stroke-width="1"/>
<line x1="298.94" y1="304.9" x2="298.94" y2="306.6" stroke="#a0a0a0" stroke-width="1"/>
<line x1="303.36" y1="304.9" x2="303.36" y2="306.6" stroke="#a0a0a0" stroke-width="1"/>
<line x1="307.78" y1="304.9" x2="307.78" y2="306.6" stroke="#a0a0a0" stroke-width="1"/>
<line x1="312.2" y1="304.9" x2="312.2" y2="306.6" stroke="#a0a0a0" stroke-width="1"/>
<line x1="316.62" y1="304.9" x2="316.62" y2="306.6" stroke="#a0a0a0" stroke-width="1"/>
<line x1="321.04" y1="304.9" x2="321.04" y2="306.6" stroke="#a0a0a0" stroke-width="1"/>
<line x1="325.46" y1="304.9" x2="325.46" y2="306.6" stroke="#a0a0a0" stroke-width="1"/>
<line x1="329.88" y1="304.9" x2="329.88" y2="306.6" stroke="#a0a0a0" stroke-width="1"/>
<line x1="334.3" y1="304.9" x2="334.3" y2="306.6" stroke="#a0a0a0" stroke-width="1"/>
<line x1="338.72" y1="304.9" x2="338.72" y2="306.6" stroke="#a0a0a0" stroke-width="1"/>
<line x1="343.14" y1="304.9" x2="343.14" y2="306.6" stroke="#a0a0a0" stroke-width="1"/>
<line x1="347.56" y1="304.9" x2="347.56" y2="306.6" stroke="#a0a0a0" stroke-width="1"/>
<line x1="351.98" y1="304.9" x2="351.98" y2="306.6" stroke="#a0a0a0" stroke-width="1"/>
<line x1="356.4" y1="304.9" x2="356.4" y2="306.6" stroke="#a0a0a0" stroke-width="1"/>
<line x1="360.82" y1="304.9" x2="360.82" y2="306.6" stroke="#a0a0a0" stroke-width="1"/>
<line x1="365.24" y1="304.9" x2="365.24" y2="306.6" stroke="#a0a0a0" stroke-width="1"/>
<line x1="369.66" y1="304.9" x2="369.66" y2="306.6" stroke="#a0a0a0" stroke-width="1"/>
<line x1="374.08" y1="304.9" x2="374.08" y2="306.6" stroke="#a0a0a0" stroke-width="1"/>
<line x1="378.5" y1="304.9" x2="378.5" y2="306.6" stroke="#a0a0a0" stroke-width="1"/>
<text x="154.7" y="185.63" font-size="3.7" text-anchor="end" textLength="16" lengthAdjust="spacingAndGlyphs" fill="#3a3a3a" font-family="Liberation Sans, sans-serif">100.00000</text>
<text x="154.7" y="203.53" font-size="3.7" text-anchor="end" textLength="14.4" lengthAdjust="spacingAndGlyphs" fill="#3a3a3a" font-family="Liberation Sans, sans-serif">10.00000</text>
<text x="154.7" y="220.83" font-size="3.7" text-anchor="end" textLength="13.4" lengthAdjust="spacingAndGlyphs" fill="#3a3a3a" font-family="Liberation Sans, sans-serif">1.00000</text>
<text x="154.7" y="237.73" font-size="3.7" text-anchor="end" textLength="13.4" lengthAdjust="spacingAndGlyphs" fill="#3a3a3a" font-family="Liberation Sans, sans-serif">0.10000</text>
<text x="154.7" y="254.93" font-size="3.7" text-anchor="end" textLength="13.4" lengthAdjust="spacingAndGlyphs" fill="#3a3a3a" font-family="Liberation Sans, sans-serif">0.01000</text>
<text x="154.7" y="271.93" font-size="3.7" text-anchor="end" textLength="13.4" lengthAdjust="spacingAndGlyphs" fill="#3a3a3a" font-family="Liberation Sans, sans-serif">0.00100</text>
<text x="154.7" y="289.33" font-size="3.7" text-anchor="end" textLength="13.4" lengthAdjust="spacingAndGlyphs" fill="#3a3a3a" font-family="Liberation Sans, sans-serif">0.00010</text>
<text x="154.7" y="306.73" font-size="3.7" text-anchor="end" textLength="13.4" lengthAdjust="spacingAndGlyphs" fill="#3a3a3a" font-family="Liberation Sans, sans-serif">0.00001</text>
<text x="181.7" y="314.9" font-size="5.3" font-weight="bold" text-anchor="middle" fill="#2a2a2a" font-family="Liberation Serif, serif">Day 0</text>
<text x="224.7" y="314.9" font-size="5.3" font-weight="bold" text-anchor="middle" fill="#2a2a2a" font-family="Liberation Serif, serif">Day +22</text>
<text x="268.9" y="314.9" font-size="5.3" font-weight="bold" text-anchor="middle" fill="#2a2a2a" font-family="Liberation Serif, serif">Day +43</text>
<text x="313.3" y="314.9" font-size="5.3" font-weight="bold" text-anchor="middle" fill="#2a2a2a" font-family="Liberation Serif, serif">Day +57</text>
<text x="357.5" y="314.9" font-size="5.3" font-weight="bold" text-anchor="middle" fill="#2a2a2a" font-family="Liberation Serif, serif">Day +85</text>
<text x="136" y="177.2" font-size="11.2" font-weight="bold" fill="#000" font-family="Liberation Sans, sans-serif">C</text>
<text x="259.5" y="178" font-size="7" text-anchor="middle" fill="#111" font-family="Liberation Sans, sans-serif">PCR</text>
<path d="M181.5,218.6 L183.5,219.87 L185.5,221.37 L187.5,222.82 L189.5,224.24 L191.5,225.61 L193.5,226.94 L195.5,228.24 L197.5,229.49 L199.5,230.7 L201.5,231.88 L203.5,233.02 L205.5,234.13 L207.5,235.2 L209.5,236.23 L211.5,237.24 L213.5,238.21 L215.5,239.14 L217.5,240.05 L219.5,240.93 L221.5,241.78 L223.5,242.6 L225.5,243.39 L227.5,244.16 L229.5,244.9 L231.5,245.62 L233.5,246.31 L235.5,246.98 L237.5,247.63 L239.5,248.25 L241.5,248.86 L243.5,249.45 L245.5,250.01 L247.5,250.56 L249.5,251.09 L251.5,251.61 L253.5,252.11 L255.5,252.6 L257.5,253.07 L259.5,253.53 L261.5,253.97 L263.5,254.41 L265.5,254.83 L267.5,255.25 L269.5,255.66 L271.5,256.06 L273.5,256.45 L275.5,256.83 L277.5,257.22 L279.5,257.59 L281.5,257.96 L283.5,258.34 L285.5,258.7 L287.5,259.07 L289.5,259.44 L291.5,259.8 L293.5,260.17 L295.5,260.55 L297.5,260.92 L299.5,261.3 L301.5,261.68 L303.5,262.07 L305.5,262.47 L307.5,262.87 L309.5,263.28 L311.5,263.7 L313.5,264.13 L315.5,264.57 L317.5,265.03 L319.5,265.49 L321.5,265.97 L323.5,266.47 L325.5,266.97 L327.5,267.5 L329.5,268.04 L331.5,268.6 L333.5,269.17 L335.5,269.77 L337.5,270.39 L339.5,271.02 L341.5,271.68 L343.5,272.36 L345.5,273.07 L347.5,273.8 L349.5,274.55 L351.5,275.33 L353.5,276.14 L355.5,276.98 L357.5,277.84" fill="none" stroke="#8484dc" stroke-width="0.9" stroke-linejoin="round"/>
<path d="M181.5,218.6 L183.5,221.06 L185.5,223.1 L187.5,225.07 L189.5,226.99 L191.5,228.84 L193.5,230.64 L195.5,232.39 L197.5,234.08 L199.5,235.71 L201.5,237.29 L203.5,238.82 L205.5,240.29 L207.5,241.71 L209.5,243.09 L211.5,244.41 L213.5,245.69 L215.5,246.91 L217.5,248.1 L219.5,249.23 L221.5,250.32 L223.5,251.37 L225.5,252.37 L227.5,253.33 L229.5,254.25 L231.5,255.12 L233.5,255.96 L235.5,256.76 L237.5,257.52 L239.5,258.25 L241.5,258.93 L243.5,259.59 L245.5,260.2 L247.5,260.79 L249.5,261.34 L251.5,261.86 L253.5,262.34 L255.5,262.8 L257.5,263.23 L259.5,263.63 L261.5,264 L263.5,264.35 L265.5,264.67 L267.5,264.96 L269.5,265.24 L271.5,265.48 L273.5,265.71 L275.5,265.91 L277.5,266.1 L279.5,266.26 L281.5,266.41 L283.5,266.53 L285.5,266.64 L287.5,266.74 L289.5,266.82 L291.5,266.88 L293.5,266.93 L295.5,266.97 L297.5,266.99 L299.5,267.01 L301.5,267.01 L303.5,267.01 L305.5,267 L307.5,266.98 L309.5,266.95 L311.5,266.92 L313.5,266.88 L315.5,266.84 L317.5,266.8 L319.5,266.75 L321.5,266.7 L323.5,266.66 L325.5,266.61 L327.5,266.56 L329.5,266.52 L331.5,266.48 L333.5,266.44 L335.5,266.41 L337.5,266.38 L339.5,266.36 L341.5,266.35 L343.5,266.35 L345.5,266.35 L347.5,266.37 L349.5,266.39 L351.5,266.43 L353.5,266.48 L355.5,266.54 L357.5,266.62" fill="none" stroke="#e68a8a" stroke-width="0.9" stroke-linejoin="round"/>
<rect x="179.2" y="199.3" width="2.4" height="2.4" fill="#2424c4"/>
<rect x="179.2" y="205.5" width="2.4" height="2.4" fill="#2424c4"/>
<rect x="179.2" y="208.8" width="2.4" height="1.65" fill="#1a1a6a"/>
<rect x="179.2" y="210.4" width="2.4" height="1.65" fill="#552288"/>
<rect x="179.2" y="212" width="2.4" height="1.65" fill="#1a1a6a"/>
<rect x="179.2" y="213.6" width="2.4" height="12.4" fill="#e01e2a"/>
<rect x="179.2" y="233" width="2.4" height="2.4" fill="#2424c4"/>
<rect x="223.7" y="217.8" width="2.4" height="2.4" fill="#552288"/>
<rect x="223.7" y="221.1" width="2.4" height="2.4" fill="#1a1a6a"/>
<rect x="223.7" y="227.1" width="2.4" height="2.4" fill="#a01c40"/>
<rect x="223.7" y="231" width="2.4" height="3.4" fill="#e01e2a"/>
<rect x="223.7" y="237.2" width="2.4" height="2.4" fill="#2424c4"/>
<rect x="223.7" y="245.1" width="2.4" height="3.3" fill="#e01e2a"/>
<rect x="223.7" y="250" width="2.4" height="4" fill="#e01e2a"/>
<rect x="223.7" y="255" width="2.4" height="1.71" fill="#e01e2a"/>
<rect x="223.7" y="256.66" width="2.4" height="1.71" fill="#a01c40"/>
<rect x="223.7" y="258.32" width="2.4" height="1.71" fill="#e01e2a"/>
<rect x="223.7" y="259.98" width="2.4" height="1.71" fill="#e01e2a"/>
<rect x="223.7" y="261.64" width="2.4" height="1.71" fill="#a01c40"/>
<rect x="223.7" y="267.1" width="2.4" height="2.4" fill="#e01e2a"/>
<rect x="223.7" y="272" width="2.4" height="5" fill="#e01e2a"/>
<rect x="267.7" y="226" width="2.4" height="2.7" fill="#552288"/>
<rect x="267.7" y="235.8" width="2.4" height="2.4" fill="#e01e2a"/>
<rect x="267.7" y="241.7" width="2.4" height="2.4" fill="#1a1a6a"/>
<rect x="267.7" y="243.7" width="2.4" height="2.4" fill="#e01e2a"/>
<rect x="267.7" y="249.6" width="2.4" height="2.4" fill="#e01e2a"/>
<rect x="267.7" y="254.4" width="2.4" height="2.4" fill="#e01e2a"/>
<rect x="267.7" y="260.4" width="2.4" height="7.5" fill="#e01e2a"/>
<rect x="267.7" y="269.6" width="2.4" height="2.4" fill="#e01e2a"/>
<rect x="267.7" y="273.7" width="2.4" height="3.7" fill="#e01e2a"/>
<rect x="267.7" y="280.2" width="2.4" height="2.4" fill="#e01e2a"/>
<rect x="267.7" y="285.8" width="2.4" height="2.4" fill="#e01e2a"/>
<rect x="267.7" y="303.2" width="2.4" height="2.4" fill="#a01c40"/>
<rect x="312.1" y="224.6" width="2.4" height="2.4" fill="#a01c40"/>
<rect x="312.1" y="234.3" width="2.4" height="2.4" fill="#a01c40"/>
<rect x="312.1" y="245.4" width="2.4" height="2.4" fill="#e01e2a"/>
<rect x="312.1" y="250.3" width="2.4" height="2.05" fill="#a01c40"/>
<rect x="312.1" y="252.3" width="2.4" height="2.05" fill="#e01e2a"/>
<rect x="312.1" y="257.7" width="2.4" height="11.6" fill="#e01e2a"/>
<rect x="312.1" y="271.1" width="2.4" height="2.4" fill="#e01e2a"/>
<rect x="312.1" y="276.2" width="2.4" height="2.4" fill="#e01e2a"/>
<rect x="312.1" y="281.4" width="2.4" height="2.4" fill="#e01e2a"/>
<rect x="312.1" y="287.2" width="2.4" height="2.4" fill="#2424c4"/>
<rect x="312.1" y="303.2" width="2.4" height="2.4" fill="#a01c40"/>
<rect x="356.3" y="229.5" width="2.4" height="2.4" fill="#a01c40"/>
<rect x="356.3" y="236" width="2.4" height="3.5" fill="#a01c40"/>
<rect x="356.3" y="241.5" width="2.4" height="2.4" fill="#e01e2a"/>
<rect x="356.3" y="244.2" width="2.4" height="2.8" fill="#a01c40"/>
<rect x="356.3" y="249" width="2.4" height="2.05" fill="#e01e2a"/>
<rect x="356.3" y="251" width="2.4" height="2.05" fill="#a01c40"/>
<rect x="356.3" y="259.2" width="2.4" height="2.4" fill="#a01c40"/>
<rect x="356.3" y="263.4" width="2.4" height="2.4" fill="#e01e2a"/>
<rect x="356.3" y="267.9" width="2.4" height="14.7" fill="#e01e2a"/>
<rect x="356.3" y="275.8" width="2.4" height="2.4" fill="#2424c4"/>
<rect x="356.3" y="289.4" width="2.4" height="2.4" fill="#a01c40"/>
<rect x="356.3" y="303.2" width="2.4" height="2.4" fill="#a01c40"/>
<rect x="241.3" y="315.6" width="2.6" height="2.6" fill="#1e1eb0"/>
<rect x="245.9" y="315.6" width="2.6" height="2.6" fill="#1e1eb0"/>
<rect x="250.5" y="315.6" width="2.6" height="2.6" fill="#1e1eb0"/>
<text x="256.2" y="318.3" font-size="3.8" font-style="italic" textLength="8" lengthAdjust="spacingAndGlyphs" fill="#444" font-family="Liberation Sans, sans-serif">PSS</text>
<rect x="270.9" y="315.6" width="2.6" height="2.6" fill="#c41c34"/>
<rect x="275.5" y="315.6" width="2.6" height="2.6" fill="#c41c34"/>
<rect x="280.1" y="315.6" width="2.6" height="2.6" fill="#c41c34"/>
<text x="285.2" y="318.3" font-size="3.8" font-style="italic" textLength="7.6" lengthAdjust="spacingAndGlyphs" fill="#444" font-family="Liberation Sans, sans-serif">PBC</text>
<text x="155.6" y="325.8" font-size="5.1" font-style="italic" font-weight="bold" fill="#222" font-family="Liberation Serif, serif">*p190/p210 patients were excluded from this graph</text>
</svg>
</body></html>
